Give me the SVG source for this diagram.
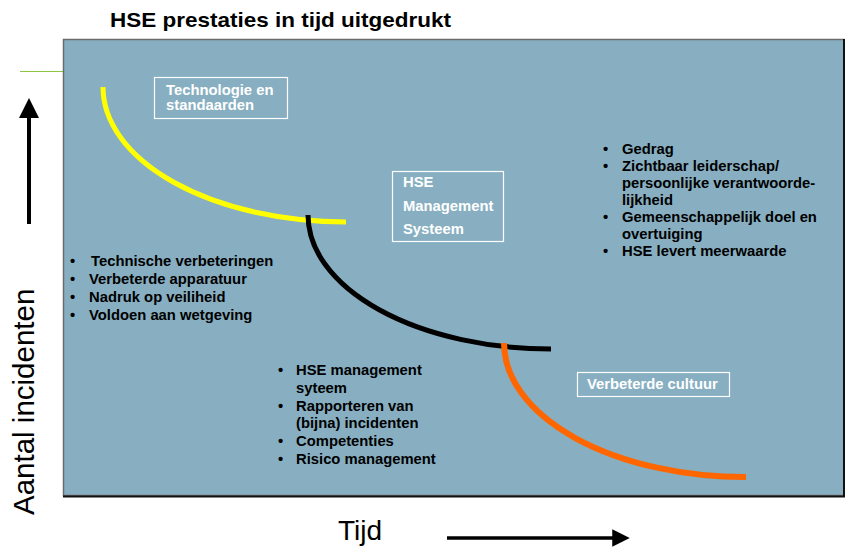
<svg xmlns="http://www.w3.org/2000/svg" width="848" height="547" viewBox="0 0 848 547">
<style>
.b{font-family:"Liberation Sans",Arial,sans-serif;font-weight:bold;font-size:14.8px;fill:#000}
.w{font-family:"Liberation Sans",Arial,sans-serif;font-weight:bold;font-size:14.8px;fill:#fff}
.box{fill:none;stroke:#fff;stroke-width:1.2}
.curve{fill:none;stroke-linecap:butt}
.ax{font-family:"Liberation Sans",Arial,sans-serif;font-size:28px;fill:#000}
</style>
<defs>
<marker id="ah" markerWidth="5" markerHeight="5" refX="0.5" refY="2.5" orient="auto" markerUnits="strokeWidth" viewBox="0 0 5 5">
<path d="M0,0 L5,2.5 L0,5 Z" fill="#000"/>
</marker>
</defs>
<rect width="848" height="547" fill="#fff"/>
<text x="110" y="27" font-family="Liberation Sans,Arial,sans-serif" font-weight="bold" font-size="20.5" textLength="341" lengthAdjust="spacingAndGlyphs">HSE prestaties in tijd uitgedrukt</text>
<line x1="20" y1="71.5" x2="63" y2="71.5" stroke="#8DC63F" stroke-width="1"/>
<g id="panel">
<rect x="63.5" y="39.5" width="780.5" height="456" fill="#87AFC1" stroke="#6b6b6b" stroke-width="1.5"/>
<path d="M844,39 L844,496.5 L63,496.5" fill="none" stroke="#111" stroke-width="2"/>
</g>
<g id="connectors">
<path class="curve" d="M103,87 A243,135 0 0 0 346,222" stroke="#FFFF00" stroke-width="5"/>
<path class="curve" d="M308,215 A243,134 0 0 0 551,349" stroke="#000" stroke-width="5"/>
<path class="curve" d="M504,343 A242,134 0 0 0 746,477" stroke="#FF6600" stroke-width="6"/>
<line x1="29" y1="224" x2="29" y2="116" stroke="#000" stroke-width="4" marker-end="url(#ah)"/>
<line x1="447" y1="538" x2="614" y2="538" stroke="#000" stroke-width="3.5" marker-end="url(#ah)"/>
</g>
<g id="tech">
<rect class="box" x="154.5" y="77.5" width="133" height="41"/>
<text class="w" x="166" y="95">Technologie en</text>
<text class="w" x="166" y="110">standaarden</text>
</g>
<g id="hsems">
<rect class="box" x="392.5" y="171.5" width="111" height="70"/>
<text class="w" x="403" y="187">HSE</text>
<text class="w" x="403" y="211">Management</text>
<text class="w" x="403" y="234">Systeem</text>
</g>
<g id="cultuur">
<rect class="box" x="577.5" y="372.5" width="152" height="24"/>
<text class="w" x="587" y="389">Verbeterde cultuur</text>
</g>
<g id="list-left">
<text class="b" x="70" y="266">•</text><text class="b" x="91" y="266">Technische verbeteringen</text>
<text class="b" x="70" y="284">•</text><text class="b" x="89" y="284">Verbeterde apparatuur</text>
<text class="b" x="70" y="302">•</text><text class="b" x="89" y="302">Nadruk op veiliheid</text>
<text class="b" x="70" y="320">•</text><text class="b" x="89" y="320">Voldoen aan wetgeving</text>
</g>
<g id="list-mid">
<text class="b" x="278" y="375">•</text><text class="b" x="296" y="375">HSE management</text>
<text class="b" x="296" y="393">syteem</text>
<text class="b" x="278" y="411">•</text><text class="b" x="296" y="411">Rapporteren van</text>
<text class="b" x="296" y="428">(bijna) incidenten</text>
<text class="b" x="278" y="446">•</text><text class="b" x="296" y="446">Competenties</text>
<text class="b" x="278" y="464">•</text><text class="b" x="296" y="464">Risico management</text>
</g>
<g id="list-right">
<text class="b" x="603" y="154">•</text><text class="b" x="622" y="154">Gedrag</text>
<text class="b" x="603" y="171">•</text><text class="b" x="622" y="171">Zichtbaar leiderschap/</text>
<text class="b" x="622" y="188">persoonlijke verantwoorde-</text>
<text class="b" x="622" y="205">lijkheid</text>
<text class="b" x="603" y="222">•</text><text class="b" x="622" y="222">Gemeenschappelijk doel en</text>
<text class="b" x="622" y="239">overtuiging</text>
<text class="b" x="603" y="256">•</text><text class="b" x="622" y="256">HSE levert meerwaarde</text>
</g>
<text class="ax" x="338" y="540">Tijd</text>
<text class="ax" transform="translate(34,515) rotate(-90)" x="0" y="0" style="font-size:29.5px">Aantal incidenten</text>
</svg>
